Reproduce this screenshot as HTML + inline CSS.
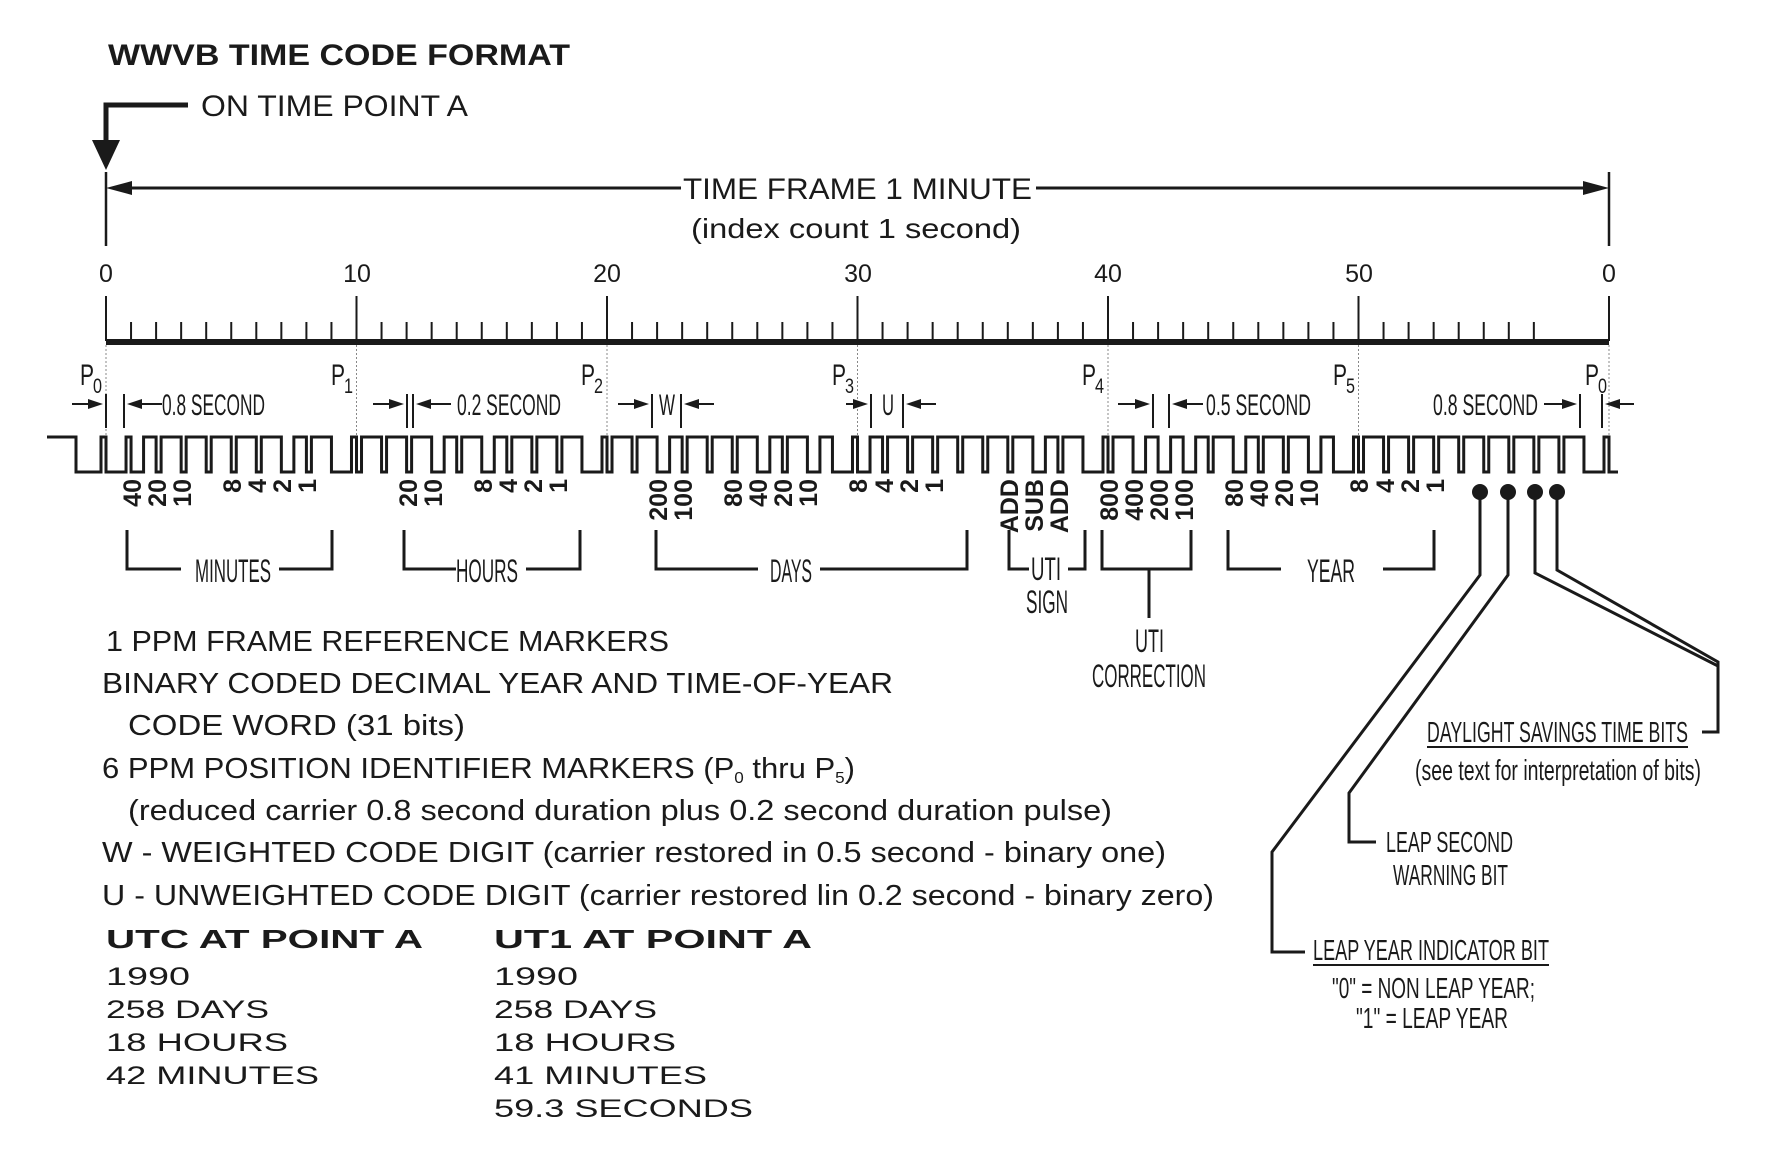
<!DOCTYPE html>
<html><head><meta charset="utf-8"><style>
html,body{margin:0;padding:0;background:#fff;}
svg{display:block;}
text{font-family:"Liberation Sans",sans-serif;fill:#1a1a1a;}
.c{font-size:30px;}
.b{font-weight:bold;}
</style></head><body>
<svg width="1766" height="1169" viewBox="0 0 1766 1169" xmlns="http://www.w3.org/2000/svg">
<g stroke="#1a1a1a" fill="none" stroke-width="3">
<path d="M188 105 H106 V152" stroke-width="5"/>
<path d="M106 172 V246 M1609 172 V246" stroke-width="2.5"/>
<path d="M128 188 H681 M1036 188 H1587" stroke-width="3"/>
<path d="M106 322 v19m25.05-19v19m25.05-19v19m25.05-19v19m25.05-19v19m25.05-19v19m25.05-19v19m25.05-19v19m25.05-19v19m25.05-19v19m25.05-19v19m25.05-19v19m25.05-19v19m25.05-19v19m25.05-19v19m25.05-19v19m25.05-19v19m25.05-19v19m25.05-19v19m25.05-19v19m25.05-19v19m25.05-19v19m25.05-19v19m25.05-19v19m25.05-19v19m25.05-19v19m25.05-19v19m25.05-19v19m25.05-19v19m25.05-19v19m25.05-19v19m25.05-19v19m25.05-19v19m25.05-19v19m25.05-19v19m25.05-19v19m25.05-19v19m25.05-19v19m25.05-19v19m25.05-19v19m25.05-19v19m25.05-19v19m25.05-19v19m25.05-19v19m25.05-19v19m25.05-19v19m25.05-19v19m25.05-19v19m25.05-19v19m25.05-19v19m25.05-19v19m25.05-19v19m25.05-19v19m25.05-19v19m25.05-19v19m25.05-19v19m25.05-19v19m25.05-19v19" stroke-width="2"/>
<path d="M106 296V341M356.5 296V341M607 296V341M857.5 296V341M1108 296V341M1358.5 296V341M1609 296V341" stroke-width="2"/>
<path d="M106 342H1609" stroke-width="6"/>
<path d="M106 345V437M356.5 345V437M607 345V437M857.5 345V437M1108 345V437M1358.5 345V437M1609 345V437" stroke-width="1" stroke-dasharray="2 2" stroke="#888"/>
<path stroke-width="3" d="M47 437H76V472H101V437H106
V472h20.04V437h5.01
V472h12.525V437h12.525
V472h5.01V437h20.04
V472h5.01V437h20.04
V472h5.01V437h20.04
V472h5.01V437h20.04
V472h5.01V437h20.04
V472h12.525V437h12.525
V472h5.01V437h20.04
V472h20.04V437h5.01
V472h5.01V437h20.04
V472h5.01V437h20.04
V472h5.01V437h20.04
V472h12.525V437h12.525
V472h5.01V437h20.04
V472h12.525V437h12.525
V472h5.01V437h20.04
V472h5.01V437h20.04
V472h5.01V437h20.04
V472h20.04V437h5.01
V472h5.01V437h20.04
V472h5.01V437h20.04
V472h12.525V437h12.525
V472h5.01V437h20.04
V472h5.01V437h20.04
V472h5.01V437h20.04
V472h12.525V437h12.525
V472h5.01V437h20.04
V472h12.525V437h12.525
V472h20.04V437h5.01
V472h12.525V437h12.525
V472h5.01V437h20.04
V472h5.01V437h20.04
V472h5.01V437h20.04
V472h5.01V437h20.04
V472h5.01V437h20.04
V472h5.01V437h20.04
V472h12.525V437h12.525
V472h5.01V437h20.04
V472h20.04V437h5.01
V472h5.01V437h20.04
V472h12.525V437h12.525
V472h12.525V437h12.525
V472h12.525V437h12.525
V472h5.01V437h20.04
V472h12.525V437h12.525
V472h5.01V437h20.04
V472h5.01V437h20.04
V472h12.525V437h12.525
V472h20.04V437h5.01
V472h5.01V437h20.04
V472h5.01V437h20.04
V472h5.01V437h20.04
V472h5.01V437h20.04
V472h5.01V437h20.04
V472h5.01V437h20.04
V472h5.01V437h20.04
V472h5.01V437h20.04
V472h5.01V437h20.04
V472h20.04V437h5.01
V472H1618"/>
<g stroke-width="2">
<path d="M106 394V428M124 394V428M407 394V428M413 394V428M652 394V428M681 394V428M871 394V428M903 394V428M1153 394V428M1169 394V428M1580 394V428M1602 394V428"/>
<path d="M72 404H100M140 404H162M373 404H400M451 404H420M618 404H646M714 404H688M846 404H865M936 404H910M1118 404H1147M1203 404H1176M1544 404H1574M1634 404H1609"/>
</g>
<path d="M127 530V569H181M279 569H332V530" />
<path d="M404 530V569H456M526 569H580V530"/>
<path d="M656 530V569H758M820 569H967V530"/>
<path d="M1009 530V569H1029M1068 569H1085V530"/>
<path d="M1102 530V569H1191V530M1149 569V618"/>
<path d="M1228 530V569H1281M1383 569H1434V530"/>
<path d="M1480 492V575L1272 852V952H1305"/>
<path d="M1508 492V575L1349 793V842H1376"/>
<path d="M1535 492V573L1718 666M1557 492V570L1718 662V732H1702"/>
<path d="M1313 965H1549M1427 747H1688" stroke-width="2"/>
</g>
<g fill="#1a1a1a">
<polygon points="106,170 92,140 120,140"/>
<polygon points="106,188 132,181 132,195"/>
<polygon points="1609,188 1583,181 1583,195"/>
<polygon points="103,404 88,399 88,409"/>
<polygon points="127,404 142,399 142,409"/>
<polygon points="404,404 389,399 389,409"/>
<polygon points="416,404 431,399 431,409"/>
<polygon points="649,404 634,399 634,409"/>
<polygon points="684,404 699,399 699,409"/>
<polygon points="868,404 853,399 853,409"/>
<polygon points="906,404 921,399 921,409"/>
<polygon points="1150,404 1135,399 1135,409"/>
<polygon points="1172,404 1187,399 1187,409"/>
<polygon points="1577,404 1562,399 1562,409"/>
<polygon points="1605,404 1620,399 1620,409"/>
<circle cx="1480" cy="492" r="8"/><circle cx="1508" cy="492" r="8"/><circle cx="1535" cy="492" r="8"/><circle cx="1557" cy="492" r="8"/>
</g>

<text x="108" y="65" class="b" font-size="30" textLength="462" lengthAdjust="spacingAndGlyphs">WWVB TIME CODE FORMAT</text>
<text x="201" y="116" font-size="30" textLength="267" lengthAdjust="spacingAndGlyphs">ON TIME POINT A</text>
<text x="683" y="199" font-size="30" textLength="349" lengthAdjust="spacingAndGlyphs">TIME FRAME 1 MINUTE</text>
<text x="691" y="238" font-size="28" textLength="330" lengthAdjust="spacingAndGlyphs">(index count 1 second)</text>

<g font-size="25" text-anchor="middle">
<text x="106" y="282">0</text><text x="357" y="282">10</text><text x="607" y="282">20</text><text x="858" y="282">30</text><text x="1108" y="282">40</text><text x="1359" y="282">50</text><text x="1609" y="282">0</text>
</g>

<g font-size="30">
<text x="80" y="385" textLength="14" lengthAdjust="spacingAndGlyphs">P</text><text x="93" y="393" font-size="21" textLength="9" lengthAdjust="spacingAndGlyphs">0</text>
<text x="331" y="385" textLength="14" lengthAdjust="spacingAndGlyphs">P</text><text x="344" y="393" font-size="21" textLength="9" lengthAdjust="spacingAndGlyphs">1</text>
<text x="581" y="385" textLength="14" lengthAdjust="spacingAndGlyphs">P</text><text x="594" y="393" font-size="21" textLength="9" lengthAdjust="spacingAndGlyphs">2</text>
<text x="832" y="385" textLength="14" lengthAdjust="spacingAndGlyphs">P</text><text x="845" y="393" font-size="21" textLength="9" lengthAdjust="spacingAndGlyphs">3</text>
<text x="1082" y="385" textLength="14" lengthAdjust="spacingAndGlyphs">P</text><text x="1095" y="393" font-size="21" textLength="9" lengthAdjust="spacingAndGlyphs">4</text>
<text x="1333" y="385" textLength="14" lengthAdjust="spacingAndGlyphs">P</text><text x="1346" y="393" font-size="21" textLength="9" lengthAdjust="spacingAndGlyphs">5</text>
<text x="1585" y="385" textLength="14" lengthAdjust="spacingAndGlyphs">P</text><text x="1598" y="393" font-size="21" textLength="9" lengthAdjust="spacingAndGlyphs">0</text>
</g>

<g class="c">
<text x="162" y="415" textLength="103" lengthAdjust="spacingAndGlyphs">0.8 SECOND</text>
<text x="457" y="415" textLength="104" lengthAdjust="spacingAndGlyphs">0.2 SECOND</text>
<text x="659" y="415" textLength="16" lengthAdjust="spacingAndGlyphs">W</text>
<text x="882" y="415" textLength="12" lengthAdjust="spacingAndGlyphs">U</text>
<text x="1206" y="415" textLength="105" lengthAdjust="spacingAndGlyphs">0.5 SECOND</text>
<text x="1433" y="415" textLength="105" lengthAdjust="spacingAndGlyphs">0.8 SECOND</text>
</g>

<g font-size="25" font-weight="bold" text-anchor="end">
<text transform="translate(141,479) rotate(-90)">40</text>
<text transform="translate(166,479) rotate(-90)">20</text>
<text transform="translate(191,479) rotate(-90)">10</text>
<text transform="translate(241,479) rotate(-90)">8</text>
<text transform="translate(266,479) rotate(-90)">4</text>
<text transform="translate(291,479) rotate(-90)">2</text>
<text transform="translate(316,479) rotate(-90)">1</text>
<text transform="translate(417,479) rotate(-90)">20</text>
<text transform="translate(442,479) rotate(-90)">10</text>
<text transform="translate(492,479) rotate(-90)">8</text>
<text transform="translate(517,479) rotate(-90)">4</text>
<text transform="translate(542,479) rotate(-90)">2</text>
<text transform="translate(567,479) rotate(-90)">1</text>
<text transform="translate(667,479) rotate(-90)">200</text>
<text transform="translate(692,479) rotate(-90)">100</text>
<text transform="translate(742,479) rotate(-90)">80</text>
<text transform="translate(767,479) rotate(-90)">40</text>
<text transform="translate(792,479) rotate(-90)">20</text>
<text transform="translate(817,479) rotate(-90)">10</text>
<text transform="translate(867,479) rotate(-90)">8</text>
<text transform="translate(893,479) rotate(-90)">4</text>
<text transform="translate(918,479) rotate(-90)">2</text>
<text transform="translate(943,479) rotate(-90)">1</text>
<text transform="translate(1018,479) rotate(-90)">ADD</text>
<text transform="translate(1043,479) rotate(-90)">SUB</text>
<text transform="translate(1068,479) rotate(-90)">ADD</text>
<text transform="translate(1118,479) rotate(-90)">800</text>
<text transform="translate(1143,479) rotate(-90)">400</text>
<text transform="translate(1168,479) rotate(-90)">200</text>
<text transform="translate(1193,479) rotate(-90)">100</text>
<text transform="translate(1243,479) rotate(-90)">80</text>
<text transform="translate(1268,479) rotate(-90)">40</text>
<text transform="translate(1293,479) rotate(-90)">20</text>
<text transform="translate(1318,479) rotate(-90)">10</text>
<text transform="translate(1368,479) rotate(-90)">8</text>
<text transform="translate(1394,479) rotate(-90)">4</text>
<text transform="translate(1419,479) rotate(-90)">2</text>
<text transform="translate(1444,479) rotate(-90)">1</text>
</g>

<g font-size="32">
<text x="195" y="582" textLength="76" lengthAdjust="spacingAndGlyphs">MINUTES</text>
<text x="456" y="582" textLength="62" lengthAdjust="spacingAndGlyphs">HOURS</text>
<text x="770" y="582" textLength="42" lengthAdjust="spacingAndGlyphs">DAYS</text>
<text x="1031" y="580" textLength="30" lengthAdjust="spacingAndGlyphs">UTI</text>
<text x="1026" y="613" textLength="42" lengthAdjust="spacingAndGlyphs">SIGN</text>
<text x="1135" y="652" textLength="29" lengthAdjust="spacingAndGlyphs">UTI</text>
<text x="1092" y="687" textLength="114" lengthAdjust="spacingAndGlyphs">CORRECTION</text>
<text x="1307" y="582" textLength="48" lengthAdjust="spacingAndGlyphs">YEAR</text>
</g>

<g font-size="29">
<text x="1427" y="742" textLength="261" lengthAdjust="spacingAndGlyphs">DAYLIGHT SAVINGS TIME BITS</text>
<text x="1415" y="780" textLength="286" lengthAdjust="spacingAndGlyphs">(see text for interpretation of bits)</text>
<text x="1386" y="852" textLength="127" lengthAdjust="spacingAndGlyphs">LEAP SECOND</text>
<text x="1393" y="885" textLength="115" lengthAdjust="spacingAndGlyphs">WARNING BIT</text>
<text x="1313" y="960" textLength="236" lengthAdjust="spacingAndGlyphs">LEAP YEAR INDICATOR BIT</text>
<text x="1332" y="998" textLength="203" lengthAdjust="spacingAndGlyphs">"0" = NON LEAP YEAR;</text>
<text x="1356" y="1028" textLength="152" lengthAdjust="spacingAndGlyphs">"1" = LEAP YEAR</text>
</g>

<g font-size="29">
<text x="106" y="651" textLength="563" lengthAdjust="spacingAndGlyphs">1 PPM FRAME REFERENCE MARKERS</text>
<text x="102" y="693" textLength="791" lengthAdjust="spacingAndGlyphs">BINARY CODED DECIMAL YEAR AND TIME-OF-YEAR</text>
<text x="128" y="735" textLength="337" lengthAdjust="spacingAndGlyphs">CODE WORD (31 bits)</text>
<text x="102" y="778" textLength="753" lengthAdjust="spacingAndGlyphs">6 PPM POSITION IDENTIFIER MARKERS (P<tspan font-size="16" dy="5">0</tspan><tspan dy="-5"> thru P</tspan><tspan font-size="16" dy="5">5</tspan><tspan dy="-5">)</tspan></text>
<text x="128" y="820" textLength="984" lengthAdjust="spacingAndGlyphs">(reduced carrier 0.8 second duration plus 0.2 second duration pulse)</text>
<text x="102" y="862" textLength="1064" lengthAdjust="spacingAndGlyphs">W - WEIGHTED CODE DIGIT (carrier restored in 0.5 second - binary one)</text>
<text x="102" y="905" textLength="1112" lengthAdjust="spacingAndGlyphs">U - UNWEIGHTED CODE DIGIT (carrier restored lin 0.2 second - binary zero)</text>
</g>
<g font-size="26" font-weight="bold">
<text x="106" y="948" textLength="317" lengthAdjust="spacingAndGlyphs">UTC AT POINT A</text>
<text x="494" y="948" textLength="318" lengthAdjust="spacingAndGlyphs">UT1 AT POINT A</text>
</g>
<g font-size="25">
<text x="106" y="985" textLength="84" lengthAdjust="spacingAndGlyphs">1990</text>
<text x="106" y="1018" textLength="163" lengthAdjust="spacingAndGlyphs">258 DAYS</text>
<text x="106" y="1051" textLength="182" lengthAdjust="spacingAndGlyphs">18 HOURS</text>
<text x="106" y="1084" textLength="213" lengthAdjust="spacingAndGlyphs">42 MINUTES</text>
<text x="494" y="985" textLength="84" lengthAdjust="spacingAndGlyphs">1990</text>
<text x="494" y="1018" textLength="163" lengthAdjust="spacingAndGlyphs">258 DAYS</text>
<text x="494" y="1051" textLength="182" lengthAdjust="spacingAndGlyphs">18 HOURS</text>
<text x="494" y="1084" textLength="213" lengthAdjust="spacingAndGlyphs">41 MINUTES</text>
<text x="494" y="1117" textLength="259" lengthAdjust="spacingAndGlyphs">59.3 SECONDS</text>
</g>
</svg>
</body></html>
